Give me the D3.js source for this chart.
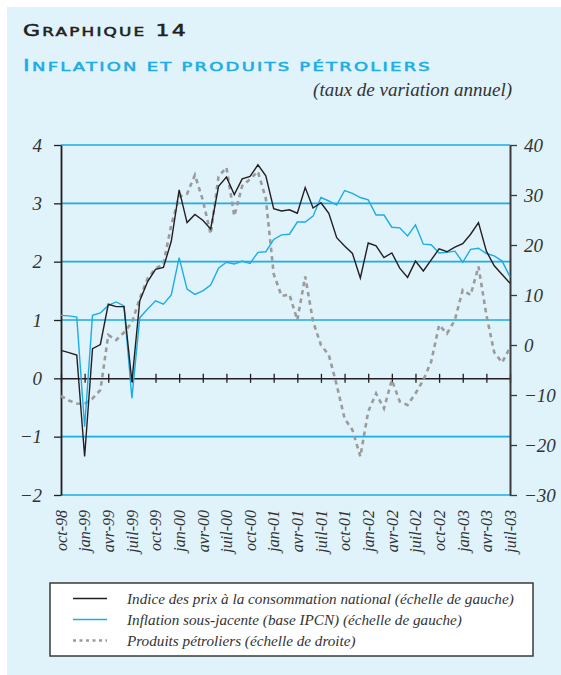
<!DOCTYPE html>
<html>
<head>
<meta charset="utf-8">
<script src="https://cdn.jsdelivr.net/npm/d3@7"></script>
<style>
    body { margin: 0; background: #fff; }
    svg { display: block; }
</style>
</head>
<body>
<div id="chart"></div>
<script>
// Data (monthly, oct-98 .. juil-03)
const tickLabels = [
    'oct-98', 'jan-99', 'avr-99', 'juil-99', 'oct-99', 'jan-00', 'avr-00',
    'juil-00', 'oct-00', 'jan-01', 'avr-01', 'juil-01', 'oct-01', 'jan-02',
    'avr-02', 'juil-02', 'oct-02', 'jan-03', 'avr-03', 'juil-03'
];

// Indice des prix à la consommation national (left scale)
const ipcn = [
    0.48, 0.44, 0.40, -1.34, 0.51, 0.58, 1.27, 1.23, 1.23, -0.06,
    1.33, 1.66, 1.87, 1.90, 2.35, 3.23, 2.67, 2.81, 2.71, 2.56,
    3.29, 3.45, 3.15, 3.42, 3.46, 3.66, 3.47, 2.91, 2.87, 2.89,
    2.83, 3.27, 2.92, 3.01, 2.83, 2.41, 2.27, 2.14, 1.72, 2.32,
    2.27, 2.07, 2.15, 1.89, 1.73, 2.01, 1.84, 2.03, 2.22, 2.17,
    2.25, 2.31, 2.47, 2.67, 2.18, 1.93, 1.78, 1.63
];

// Inflation sous-jacente (left scale)
const sousJacente = [
    1.08, 1.07, 1.05, -0.83, 1.08, 1.12, 1.25, 1.31, 1.24, -0.34,
    1.04, 1.19, 1.33, 1.27, 1.43, 2.07, 1.53, 1.44, 1.50, 1.60,
    1.89, 1.99, 1.96, 2.01, 1.97, 2.16, 2.17, 2.38, 2.46, 2.47,
    2.68, 2.68, 2.78, 3.10, 3.04, 2.97, 3.22, 3.17, 3.10, 3.06,
    2.80, 2.80, 2.59, 2.58, 2.44, 2.63, 2.30, 2.29, 2.15, 2.16,
    2.18, 1.99, 2.21, 2.23, 2.14, 2.10, 2.01, 1.74
];

// Produits pétroliers (right scale)
const petrole = [
    -10.2, -11.1, -11.7, -11.8, -10.7, -9.0, 2.0, 1.0, 2.5, 4.5,
    9.3, 13.3, 15.3, 16.2, 24.0, 29.7, 30.2, 34.0, 29.0, 22.2,
    33.7, 35.5, 25.8, 31.8, 33.2, 34.7, 29.3, 14.2, 9.8, 10.1,
    5.0, 13.7, 4.7, 0.0, -2.0, -8.0, -14.7, -17.0, -22.3, -13.3,
    -9.7, -12.7, -7.0, -11.3, -12.0, -9.7, -7.0, -3.3, 4.0, 2.3,
    5.0, 11.0, 10.0, 15.7, 6.0, -1.5, -3.5, -0.5
];

const leftTicks = [-2, -1, 0, 1, 2, 3, 4];
const rightTicks = [-30, -20, -10, 0, 10, 20, 30, 40];

const legendLabels = [
    'Indice des prix à la consommation national (échelle de gauche)',
    'Inflation sous-jacente (base IPCN) (échelle de gauche)',
    'Produits pétroliers (échelle de droite)'
];

// Layout
const W = 561, H = 675;
const plot = { left: 61, right: 510, top: 145, bottom: 495 };
const SERIF = "'Liberation Serif'";
const SANS = "'DejaVu Sans'";
const CYAN = '#1badE6';
const BLACK = '#231f20';
const GREY = '#9b9b9b';
const TEXT = '#333';

// italic serif text helper
function serif(sel, size) {
    return sel
        .attr('font-family', null)
        .style('font-family', SERIF)
        .style('font-style', 'italic')
        .style('font-size', size + 'px')
        .attr('fill', TEXT);
}

const svg = d3.select('#chart').append('svg')
    .attr('width', W)
    .attr('height', H);

// Background panel
svg.append('rect')
    .attr('x', 7).attr('y', 7)
    .attr('width', W - 7).attr('height', H - 7)
    .attr('fill', '#e0f2fa');

// Titles (small caps drawn with two sizes)
const t1 = svg.append('text')
    .attr('x', 23).attr('y', 36)
    .attr('fill', BLACK)
    .attr('stroke', BLACK)
    .attr('stroke-width', 0.5)
    .style('font-family', SANS)
    .style('letter-spacing', '1.5px')
    .attr('textLength', 165)
    .attr('lengthAdjust', 'spacingAndGlyphs');
t1.append('tspan').style('font-size', '15px').text('G');
t1.append('tspan').style('font-size', '11.5px').text('RAPHIQUE');
t1.append('tspan').style('font-size', '15px').text(' 14');

const t2 = svg.append('text')
    .attr('x', 23).attr('y', 71)
    .attr('fill', CYAN)
    .attr('stroke', CYAN)
    .attr('stroke-width', 0.5)
    .style('font-family', SANS)
    .style('letter-spacing', '1.5px')
    .attr('textLength', 409)
    .attr('lengthAdjust', 'spacingAndGlyphs');
t2.append('tspan').style('font-size', '15px').text('I');
t2.append('tspan').style('font-size', '11.8px').text('NFLATION ET PRODUITS PÉTROLIERS');

svg.append('text')
    .attr('x', 512).attr('y', 96)
    .attr('text-anchor', 'end')
    .call(serif, 19)
    .text('(taux de variation annuel)');

// Scales
const x = d3.scaleLinear()
    .domain([0, ipcn.length - 1])
    .range([plot.left, plot.right]);
const yL = d3.scaleLinear()
    .domain([-2, 4])
    .range([plot.bottom, plot.top]);
const yR = d3.scaleLinear()
    .domain([-30, 40])
    .range([plot.bottom, plot.top]);

const quarterIdx = d3.range(0, ipcn.length, 3);

// Gridlines
svg.append('g')
    .selectAll('line')
    .data(leftTicks.filter(d => d !== 0))
    .join('line')
    .attr('x1', plot.left).attr('x2', plot.right)
    .attr('y1', d => yL(d)).attr('y2', d => yL(d))
    .attr('stroke', CYAN)
    .attr('stroke-width', 1.6);

// Zero line with quarter ticks
const zeroAxis = svg.append('g')
    .attr('transform', `translate(0,${yL(0)})`)
    .call(d3.axisBottom(x).tickValues(quarterIdx).tickFormat('').tickSizeOuter(0).tickSizeInner(4.5));
zeroAxis.select('.domain').attr('stroke', BLACK).attr('stroke-width', 1.5);
zeroAxis.selectAll('.tick line')
    .attr('y1', -4.5)
    .attr('stroke', BLACK)
    .attr('stroke-width', 1.3);

// X labels
const xLabels = svg.append('g')
    .attr('transform', `translate(0,${plot.bottom})`)
    .call(d3.axisBottom(x).tickValues(quarterIdx).tickFormat((d, i) => tickLabels[i]).tickSize(0));
xLabels.attr('font-family', null);
xLabels.select('.domain').remove();
xLabels.selectAll('text')
    .call(serif, 16)
    .attr('text-anchor', 'end')
    .attr('transform', 'rotate(-90)')
    .attr('x', -15)
    .attr('y', 0)
    .attr('dy', '0.33em');

// Left axis
const leftAxis = svg.append('g')
    .attr('transform', `translate(${plot.left},0)`)
    .call(d3.axisLeft(yL).tickValues(leftTicks).tickFormat(d3.format('d'))
        .tickSizeInner(7).tickSizeOuter(0).tickPadding(12));
leftAxis.attr('font-family', null);
leftAxis.select('.domain').attr('stroke', BLACK).attr('stroke-width', 1.8);
leftAxis.selectAll('.tick line').attr('stroke', BLACK).attr('stroke-width', 1.3);
leftAxis.selectAll('text').call(serif, 19);

// Right axis
const rightAxis = svg.append('g')
    .attr('transform', `translate(${plot.right},0)`)
    .call(d3.axisRight(yR).tickValues(rightTicks).tickFormat(d3.format('d'))
        .tickSizeInner(7).tickSizeOuter(0).tickPadding(7));
rightAxis.attr('font-family', null);
rightAxis.select('.domain').attr('stroke', '#3a3a3a').attr('stroke-width', 2);
rightAxis.selectAll('.tick line').attr('stroke', '#3a3a3a').attr('stroke-width', 1.3);
rightAxis.selectAll('text').call(serif, 19);

// Series
const lineL = d3.line().x((d, i) => x(i)).y(d => yL(d));
const lineR = d3.line().x((d, i) => x(i)).y(d => yR(d));

svg.append('path')
    .datum(petrole)
    .attr('d', lineR)
    .attr('fill', 'none')
    .attr('stroke', GREY)
    .attr('stroke-width', 2.6)
    .attr('stroke-dasharray', '4.5,4');

svg.append('path')
    .datum(sousJacente)
    .attr('d', lineL)
    .attr('fill', 'none')
    .attr('stroke', CYAN)
    .attr('stroke-width', 1.4);

svg.append('path')
    .datum(ipcn)
    .attr('d', lineL)
    .attr('fill', 'none')
    .attr('stroke', BLACK)
    .attr('stroke-width', 1.4);

// Legend
const legend = svg.append('g');
legend.append('rect')
    .attr('x', 50).attr('y', 583)
    .attr('width', 483).attr('height', 73)
    .attr('fill', '#fff')
    .attr('stroke', '#3a3a3a')
    .attr('stroke-width', 1.5);

const legendStyles = [
    { stroke: BLACK, width: 1.4, dash: null },
    { stroke: CYAN, width: 1.4, dash: null },
    { stroke: GREY, width: 2.6, dash: '3,3.5' }
];
const rows = legend.selectAll('g.row')
    .data(legendLabels)
    .join('g')
    .attr('class', 'row')
    .attr('transform', (d, i) => `translate(0,${598.5 + i * 21})`);
rows.append('line')
    .attr('x1', 73).attr('x2', 107)
    .attr('stroke', (d, i) => legendStyles[i].stroke)
    .attr('stroke-width', (d, i) => legendStyles[i].width)
    .attr('stroke-dasharray', (d, i) => legendStyles[i].dash);
rows.append('text')
    .attr('x', 127)
    .attr('y', 5)
    .call(serif, 15.2)
    .text(d => d);
</script>
</body>
</html>
